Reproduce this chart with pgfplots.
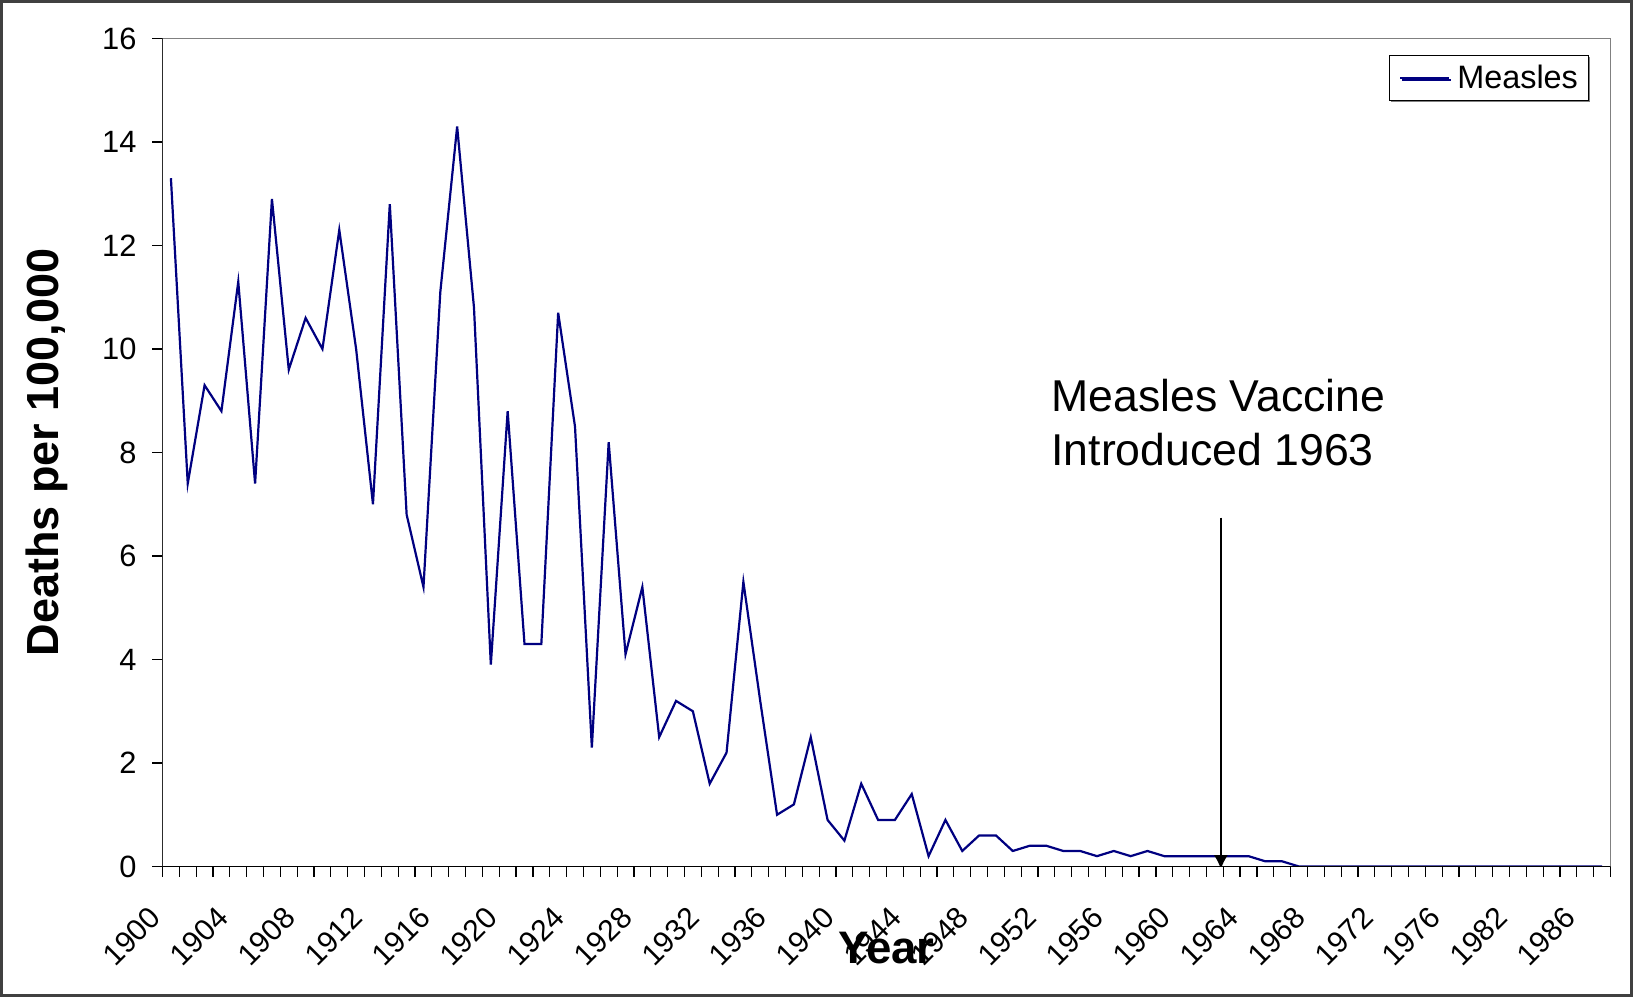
\documentclass[border=0pt]{standalone}
\usepackage{pgfplots}
\pgfplotsset{compat=1.18}
\usepackage{fontspec}
\setmainfont{Liberation Sans}
\usetikzlibrary{shadows,arrows.meta}
\definecolor{measles}{HTML}{000080}
\definecolor{frame}{HTML}{404040}
\begin{document}
\begin{tikzpicture}
\begin{axis}[
  scale only axis,
  width=724pt, height=414pt,
  xmin=-0.5, xmax=85.5, ymin=0, ymax=16,
  axis line style={draw=gray},
  xtick pos=bottom, ytick pos=left,
  tick align=outside,
  major tick length=5pt,
  tick style={black, line width=0.6pt},
  xtick={-0.5,0.5,...,85.5},
  xticklabels={},
  extra x ticks={0,4,...,84},
  extra x tick labels={1900,1904,1908,1912,1916,1920,1924,1928,1932,1936,1940,1944,1948,1952,1956,1960,1964,1968,1972,1976,1982,1986},
  extra x tick style={major tick length=0pt,
    tick label style={font=\fontsize{15pt}{17pt}\selectfont, rotate=45, anchor=east, inner sep=0pt, xshift=-21.7pt, yshift=-10.8pt}},
  ytick={0,2,...,16},
  yticklabel style={font=\fontsize{15.4pt}{17pt}\selectfont, xshift=-4.5pt, /pgf/number format/assume math mode=true},
  xlabel={Year},
  ylabel={Deaths per 100,000},
  xlabel style={font=\bfseries\fontsize{22.8pt}{26pt}\selectfont, at={(axis description cs:0.5,0)}, anchor=center, yshift=-40.8pt},
  ylabel style={font=\bfseries\fontsize{22.5pt}{26pt}\selectfont, at={(axis description cs:0,0.5)}, anchor=center, yshift=57.75pt},
  legend style={at={(rel axis cs:0.9847,0.980)}, anchor=north east, draw=black, fill=white,
    font=\fontsize{16.2pt}{18pt}\selectfont, inner xsep=5pt, inner ysep=4.6pt,
    nodes={inner sep=0pt},
    /tikz/every odd column/.append style={column sep=3.6pt},
    drop shadow={shadow xshift=1pt, shadow yshift=-1pt, fill=gray, opacity=1}},
  legend image code/.code={\draw[#1] (0pt,0pt) -- (24.5pt,0pt);},
  legend cell align=left,
]
\addplot[color=measles, line width=1.1pt] coordinates {
(0,13.3) (1,7.4) (2,9.3) (3,8.8) (4,11.3) (5,7.4) (6,12.9) (7,9.6) (8,10.6) (9,10.0)
(10,12.3) (11,10.0) (12,7.0) (13,12.8) (14,6.8) (15,5.4) (16,11.1) (17,14.3) (18,10.8) (19,3.9)
(20,8.8) (21,4.3) (22,4.3) (23,10.7) (24,8.5) (25,2.3) (26,8.2) (27,4.1) (28,5.4) (29,2.5)
(30,3.2) (31,3.0) (32,1.6) (33,2.2) (34,5.5) (35,3.2) (36,1.0) (37,1.2) (38,2.5) (39,0.9)
(40,0.5) (41,1.6) (42,0.9) (43,0.9) (44,1.4) (45,0.2) (46,0.9) (47,0.3) (48,0.6) (49,0.6)
(50,0.3) (51,0.4) (52,0.4) (53,0.3) (54,0.3) (55,0.2) (56,0.3) (57,0.2) (58,0.3) (59,0.2)
(60,0.2) (61,0.2) (62,0.2) (63,0.2) (64,0.2) (65,0.1) (66,0.1) (67,0) (68,0) (69,0)
(70,0) (71,0) (72,0) (73,0) (74,0) (75,0) (76,0) (77,0) (78,0) (79,0)
(80,0) (81,0) (82,0) (83,0) (84,0) (85,0)
};
\addlegendentry{Measles}
\draw[black, line width=0.7pt] (rel axis cs:0,0) -- (rel axis cs:0,1);
\draw[black, line width=0.7pt] (rel axis cs:0,0) -- (rel axis cs:1,0);
\draw[black, line width=0.7pt, -{Latex[length=7pt,width=7pt]}] (axis cs:62.36,6.74) -- (axis cs:62.36,-0.05);
\node[anchor=base west, inner sep=0pt, font=\fontsize{22.3pt}{26pt}\selectfont] at (axis cs:52.27,8.79) {Measles Vaccine};
\node[anchor=base west, inner sep=0pt, font=\fontsize{22.3pt}{26pt}\selectfont] at (axis cs:52.27,7.75) {Introduced 1963};
\end{axis}
\draw[frame, line width=1.4pt] (-81.25pt+0.7pt,-65.25pt+0.7pt) rectangle (735.25pt-0.7pt,433.25pt-0.7pt);
\pgfresetboundingbox
\path (-81.25pt,-65.25pt) rectangle (735.25pt,433.25pt);
\end{tikzpicture}
\end{document}
